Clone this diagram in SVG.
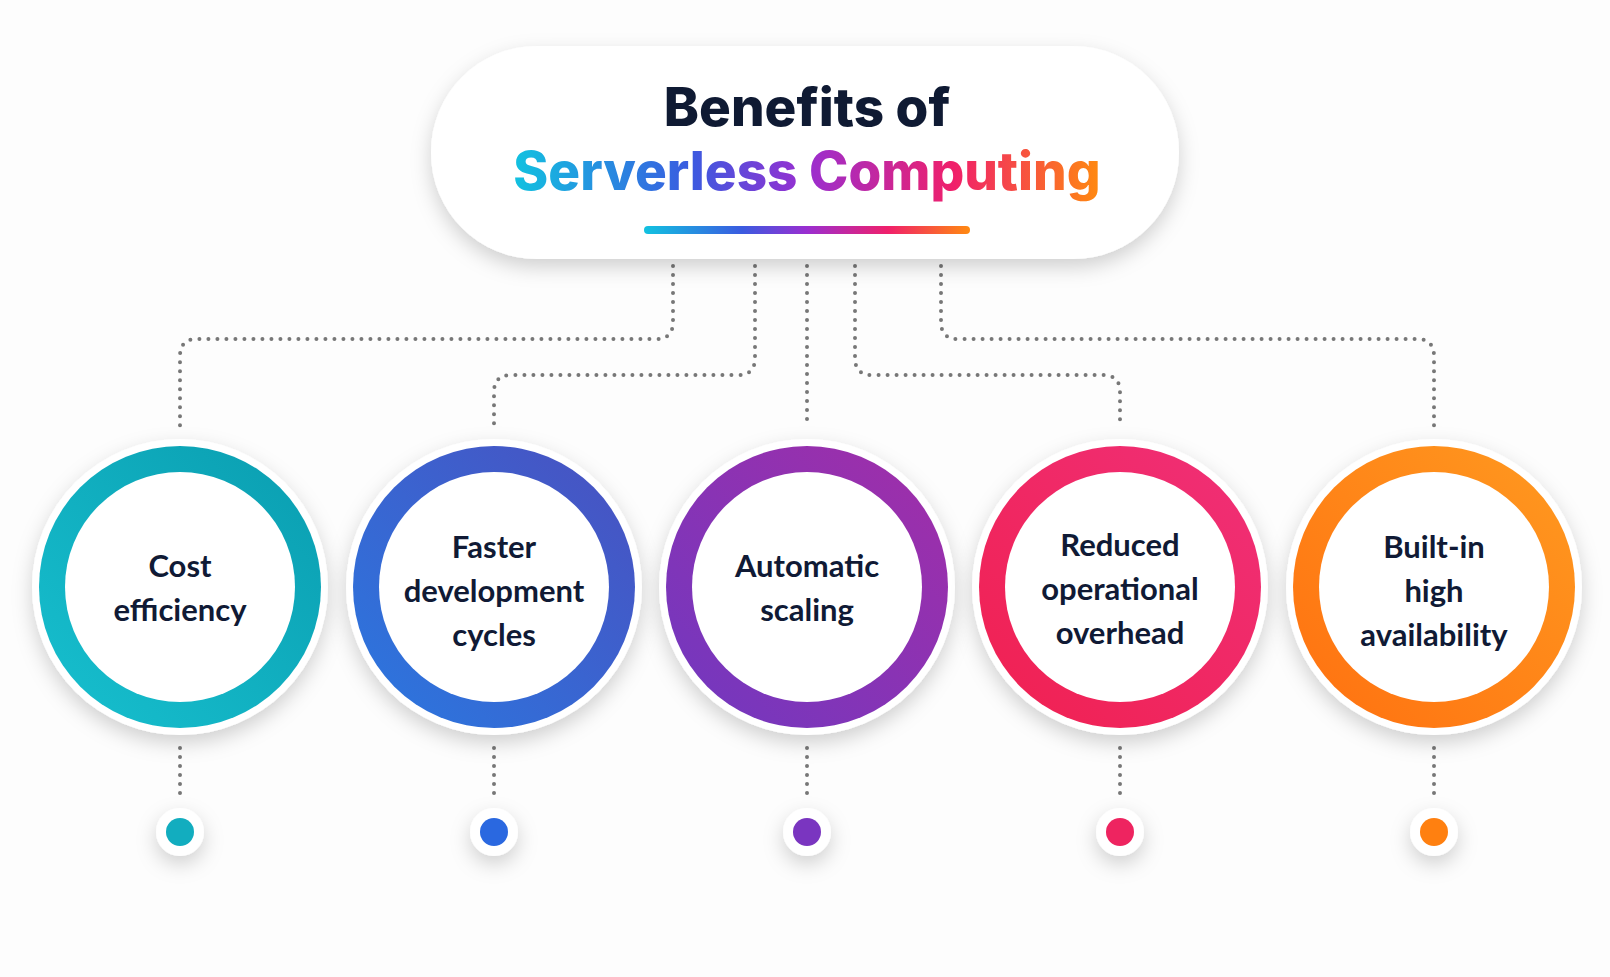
<svg xmlns="http://www.w3.org/2000/svg" width="1610" height="977" viewBox="0 0 1610 977">
<defs>
<filter id="sh" x="-60%" y="-60%" width="220%" height="240%"><feDropShadow dx="0" dy="8" stdDeviation="10" flood-color="#000" flood-opacity="0.18"/></filter>
<linearGradient id="tg" x1="0" x2="1"><stop offset="0" stop-color="#12c2e0"/><stop offset="0.3" stop-color="#3a5be0"/><stop offset="0.5" stop-color="#9a2ed0"/><stop offset="0.75" stop-color="#f0206a"/><stop offset="1" stop-color="#ff8a10"/></linearGradient>
<linearGradient id="g1" x1="0" y1="1" x2="1" y2="0"><stop offset="0" stop-color="#17c0cf"/><stop offset="1" stop-color="#0a9db0"/></linearGradient>
<linearGradient id="g2" x1="0" y1="1" x2="1" y2="0"><stop offset="0" stop-color="#2a78e0"/><stop offset="1" stop-color="#4a50c0"/></linearGradient>
<linearGradient id="g3" x1="0" y1="1" x2="1" y2="0"><stop offset="0" stop-color="#7038c0"/><stop offset="1" stop-color="#a22ea8"/></linearGradient>
<linearGradient id="g4" x1="0" y1="1" x2="1" y2="0"><stop offset="0" stop-color="#f02050"/><stop offset="1" stop-color="#f03078"/></linearGradient>
<linearGradient id="g5" x1="0" y1="1" x2="1" y2="0"><stop offset="0" stop-color="#ff7010"/><stop offset="1" stop-color="#ff9a20"/></linearGradient>
</defs>
<style>
.c{fill:none;stroke:#777;stroke-width:4;stroke-linecap:round;stroke-dasharray:0 9}
.t{font-family:Lato,"Open Sans",sans-serif;font-weight:700;font-size:31px;fill:#101a35;text-anchor:middle}
.halo{fill:#fff;filter:url(#sh)}
.in{fill:#fff}
.h{font-family:Inter,Roboto,sans-serif;font-weight:800;font-size:53px;text-anchor:middle}
</style>
<rect width="1610" height="977" fill="#fdfdfd"/>
<g id="connectors">
<path class="c" d="M673 266 V322 Q673 339 656 339 H197 Q180 339 180 356 V426"/>
<path class="c" d="M755 266 V358 Q755 375 738 375 H511 Q494 375 494 392 V426"/>
<path class="c" d="M807 266 V426"/>
<path class="c" d="M855 266 V358 Q855 375 872 375 H1103 Q1120 375 1120 392 V426"/>
<path class="c" d="M941 266 V322 Q941 339 958 339 H1417 Q1434 339 1434 356 V426"/>
<path class="c" d="M180 748 V801 M494 748 V801 M807 748 V801 M1120 748 V801 M1434 748 V801"/>
</g>
<g id="title">
<rect x="431" y="46" width="748" height="213" rx="106" class="halo"/>
<text class="h" x="807" y="126" fill="#0f1a33">Benefits of</text>
<text class="h" x="807" y="190" fill="url(#tg)">Serverless Computing</text>
<rect x="644" y="226" width="326" height="8" rx="4" fill="url(#tg)"/>
</g>
<g id="n1"><circle cx="180" cy="587" r="148" class="halo"/><circle cx="180" cy="587" r="141" fill="url(#g1)"/><circle cx="180" cy="587" r="115" class="in"/><text class="t" x="180" y="577">Cost</text><text class="t" x="180" y="621">efficiency</text></g>
<g id="n2"><circle cx="494" cy="587" r="148" class="halo"/><circle cx="494" cy="587" r="141" fill="url(#g2)"/><circle cx="494" cy="587" r="115" class="in"/><text class="t" x="494" y="558">Faster</text><text class="t" x="494" y="602">development</text><text class="t" x="494" y="646">cycles</text></g>
<g id="n3"><circle cx="807" cy="587" r="148" class="halo"/><circle cx="807" cy="587" r="141" fill="url(#g3)"/><circle cx="807" cy="587" r="115" class="in"/><text class="t" x="807" y="577">Automatic</text><text class="t" x="807" y="621">scaling</text></g>
<g id="n4"><circle cx="1120" cy="587" r="148" class="halo"/><circle cx="1120" cy="587" r="141" fill="url(#g4)"/><circle cx="1120" cy="587" r="115" class="in"/><text class="t" x="1120" y="556">Reduced</text><text class="t" x="1120" y="600">operational</text><text class="t" x="1120" y="644">overhead</text></g>
<g id="n5"><circle cx="1434" cy="587" r="148" class="halo"/><circle cx="1434" cy="587" r="141" fill="url(#g5)"/><circle cx="1434" cy="587" r="115" class="in"/><text class="t" x="1434" y="558">Built-in</text><text class="t" x="1434" y="602">high</text><text class="t" x="1434" y="646">availability</text></g>
<g id="d1"><circle cx="180" cy="832" r="24" class="halo"/><circle cx="180" cy="832" r="14" fill="#12adbf"/></g>
<g id="d2"><circle cx="494" cy="832" r="24" class="halo"/><circle cx="494" cy="832" r="14" fill="#2a68e0"/></g>
<g id="d3"><circle cx="807" cy="832" r="24" class="halo"/><circle cx="807" cy="832" r="14" fill="#7a35c0"/></g>
<g id="d4"><circle cx="1120" cy="832" r="24" class="halo"/><circle cx="1120" cy="832" r="14" fill="#ee2460"/></g>
<g id="d5"><circle cx="1434" cy="832" r="24" class="halo"/><circle cx="1434" cy="832" r="14" fill="#ff8010"/></g>
</svg>
